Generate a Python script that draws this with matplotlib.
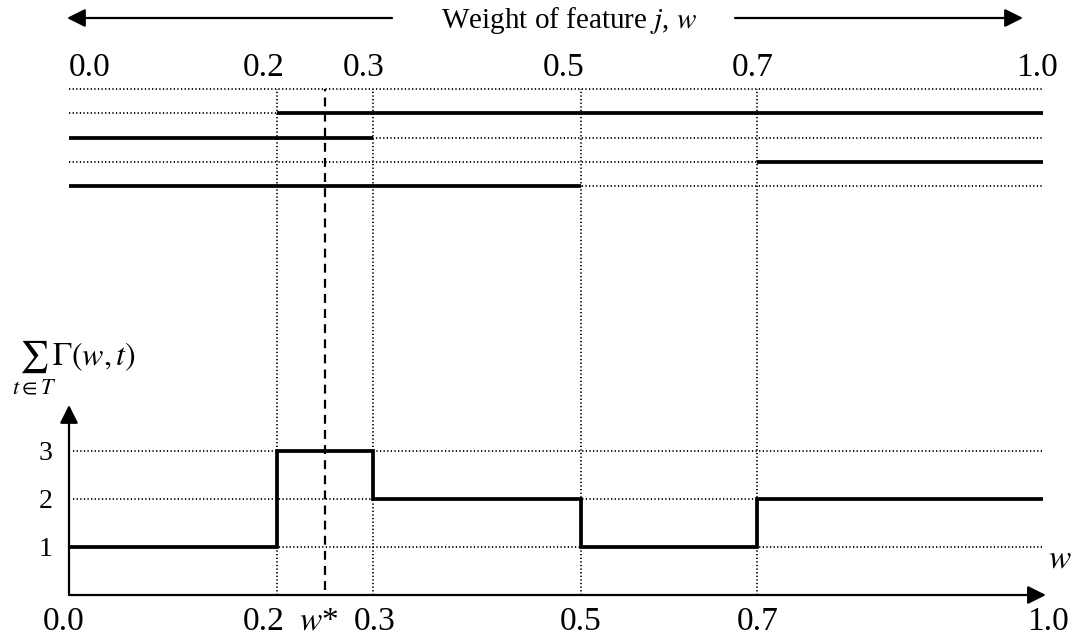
import numpy as np
import matplotlib
matplotlib.use("Agg")
import matplotlib.pyplot as plt

# breakpoints of the weight of feature j and the summed indicator on each segment
BREAKS       = [0.0, 0.2, 0.3, 0.5, 0.7, 1.0]
BREAK_LABELS = ["0.0", "0.2", "0.3", "0.5", "0.7", "1.0"]
GAMMA_SUM    = [1, 3, 2, 1, 2]
LEVELS       = [1, 2, 3]
W_STAR       = 0.25

# intervals of w where Gamma(w, t) = 1, one row per training example (top to bottom)
INTERVAL_START = [0.2, 0.0, 0.7, 0.0]
INTERVAL_END   = [1.0, 0.3, 1.0, 0.5]

# the original figure is schematic: where each breakpoint is drawn (fraction of axis width)
DRAWN_AT = [0.0, 0.2132, 0.3121, 0.5254, 0.7060, 1.0]
# hand nudges of the labels in the original (px)
TOP_NUDGE    = [0, -13, -9, -17, -4, -6]
BOTTOM_NUDGE = [-5, -13, -6, 2, 0, 1, 5]

plt.rcParams["font.family"] = ["Liberation Serif", "DejaVu Serif"]
plt.rcParams["mathtext.fontset"] = "stix"

W, H = 1075, 636
LEFT, RIGHT = 69, 1043        # px of w = 0 and w = 1
AXIS_Y, TOP_ROW_Y = 595, 89   # px of the w-axis and of the first dotted row
UNIT = 48                     # px per unit of the sum
ROW = 24.25                   # px between rows of the interval chart

def fx(px): return px / W
def fy(py): return 1 - py / H

def fwd(w): return np.interp(w, BREAKS, DRAWN_AT)
def inv(p): return np.interp(p, DRAWN_AT, BREAKS)

K = "black"
DOT = (0, (0.7, 1.3))
DOT_LW = 1.3

fig = plt.figure(figsize=(W / 100, H / 100), dpi=100)
fig.patch.set_facecolor("white")

# --- bottom: step plot of the sum --------------------------------------------
ax = fig.add_axes([fx(LEFT), fy(AXIS_Y), (RIGHT - LEFT) / W, (AXIS_Y - TOP_ROW_Y) / H])
ax.set_xscale("function", functions=(fwd, inv))
ax.set_xlim(0, 1)
ymax = (AXIS_Y - TOP_ROW_Y) / UNIT
ax.set_ylim(0, ymax)
ax.patch.set_alpha(0)
for s in ax.spines.values():
    s.set_visible(False)

ax.hlines(LEVELS, 0.004, 1.0, colors=K, linestyles=DOT, lw=DOT_LW)
ax.vlines(BREAKS[1:-1], 0, ymax, colors=K, linestyles=DOT, lw=DOT_LW, clip_on=False)
ax.vlines(W_STAR, 0.1, ymax, colors=K, linestyles=(0, (4, 2.8)), lw=1.6, clip_on=False)
ax.stairs(GAMMA_SUM, BREAKS, baseline=None, color=K, lw=2.7, zorder=4)

arrow = dict(arrowstyle="-|>,head_length=0.5,head_width=0.25", lw=1.6, color=K,
             mutation_scale=22, shrinkA=0, shrinkB=0)
ax.annotate("", xy=(1.003, 0), xytext=(0, 0), xycoords="axes fraction",
            arrowprops=arrow)
ax.annotate("", xy=(0, (AXIS_Y - 405) / (AXIS_Y - TOP_ROW_Y)), xytext=(0, 0),
            xycoords="axes fraction", arrowprops=arrow)

ticks = BREAKS[:2] + [W_STAR] + BREAKS[2:]
tick_labels = BREAK_LABELS[:2] + [r"$w$*"] + BREAK_LABELS[2:]
ax.set_xticks([])
for w, lab, dx in zip(ticks, tick_labels, BOTTOM_NUDGE):
    ax.annotate(lab, xy=(w, 0), xycoords=("data", "axes fraction"),
                xytext=(dx, -11), textcoords="offset pixels",
                ha="center", va="top", fontsize=24)
ax.set_yticks(LEVELS)
ax.set_yticklabels([str(v) for v in LEVELS], fontsize=20)
ax.tick_params(axis="y", length=0, pad=12)
ax.minorticks_off()

fig.text(fx(1048), fy(567), r"$w$", fontsize=24, ha="left", va="baseline")
fig.text(fx(12), fy(368), r"$\sum_{t\in T}\Gamma(w,t)$", fontsize=23,
         ha="left", va="center")

# --- top: intervals per example ----------------------------------------------
n_rows = len(INTERVAL_START)
ax_top = fig.add_axes([fx(LEFT), fy(TOP_ROW_Y + n_rows * ROW), (RIGHT - LEFT) / W,
                       n_rows * ROW / H])
ax_top.set_xscale("function", functions=(fwd, inv))
ax_top.set_xlim(0, 1)
ax_top.set_ylim(n_rows, 0)
ax_top.axis("off")

rows = np.arange(n_rows + 1)
ax_top.hlines(rows, -0.003, 1.0, colors=K, linestyles=DOT, lw=DOT_LW, clip_on=False)
ax_top.hlines(rows[1:], INTERVAL_START, INTERVAL_END, colors=K, lw=2.7, zorder=4,
              clip_on=False)

for w, lab, dx in zip(BREAKS, BREAK_LABELS, TOP_NUDGE):
    ax_top.annotate(lab, xy=(w, 0), xytext=(dx, TOP_ROW_Y - 76),
                    textcoords="offset pixels", fontsize=24, va="baseline",
                    ha="left" if w == 0 else "center", annotation_clip=False)

# --- header with arrows ------------------------------------------------------
fig.text(fx(569), fy(28), r"Weight of feature $j$, $w$", fontsize=21,
         ha="center", va="baseline")
ax_top.annotate("", xy=(fx(67), fy(18)), xytext=(fx(392), fy(18)),
                xycoords="figure fraction", arrowprops=arrow)
ax_top.annotate("", xy=(fx(1023), fy(18)), xytext=(fx(735), fy(18)),
                xycoords="figure fraction", arrowprops=arrow)

fig.savefig("out.png", dpi=100, facecolor="white")
